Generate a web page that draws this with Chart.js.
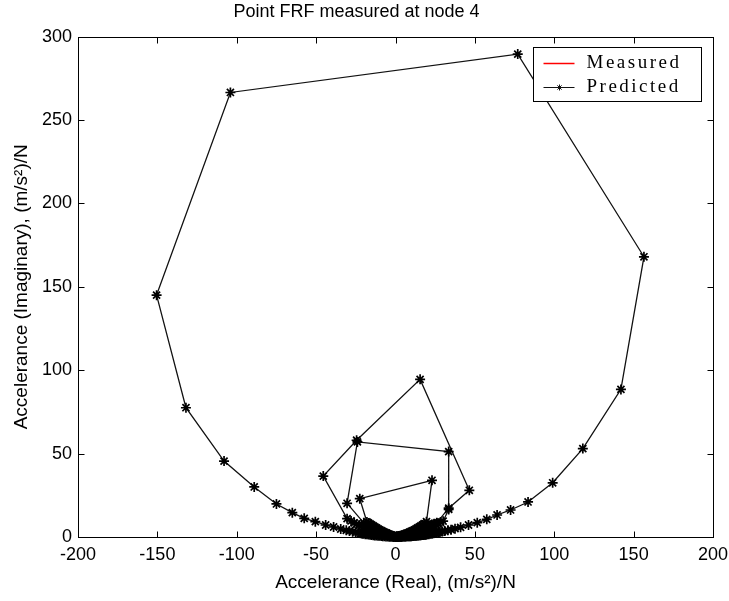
<!DOCTYPE html>
<html>
<head>
<meta charset="utf-8">
<title>Point FRF measured at node 4</title>
<script src="https://cdn.jsdelivr.net/npm/chart.js@4.4.1/dist/chart.umd.min.js"></script>
<style>
  html, body { margin: 0; padding: 0; background: #fff; }
  #frfChart { display: block; }
</style>
</head>
<body>
<canvas id="frfChart" width="729" height="601"></canvas>
<script>
// Tick positions on both axes
const xTicks = [-200, -150, -100, -50, 0, 50, 100, 150, 200];
const yTicks = [0, 50, 100, 150, 200, 250, 300];

// Measured FRF (nothing plotted, only shown in the legend)
const measReal = [];
const measImag = [];

// Predicted FRF, split by frequency band
// low frequency tail and rising side of mode 1
const tailReal = [0.1, 0.4, 0.7, 1, 1.3, 1.6, 2, 2.4, 2.8, 3.2, 3.6, 4, 4.5, 5, 5.5, 6, 6.5, 7, 7.5, 8,
  8.5, 9, 9.5, 10, 10.5, 11, 11.5, 12, 12.5, 13, 13.5, 14, 14.5, 15, 15.5, 16, 16.5, 17, 17.5, 18,
  18.5, 19, 19.5, 20, 21, 22, 23, 24, 25, 26, 27, 28, 29.5, 31, 33, 35, 37.5, 41, 46, 51.5,
  57.5, 64, 72.5, 83.5, 99, 118, 142, 156.5];
const tailImag = [0, 0, 0, 0.05, 0.05, 0.1, 0.1, 0.1, 0.15, 0.15, 0.2, 0.2, 0.25, 0.3, 0.3, 0.3, 0.35, 0.4, 0.4, 0.4,
  0.45, 0.5, 0.5, 0.5, 0.55, 0.6, 0.65, 0.7, 0.75, 0.8, 0.85, 0.9, 0.95, 1.0, 1.05, 1.1, 1.15, 1.2, 1.25, 1.3,
  1.35, 1.4, 1.5, 1.6, 1.7, 1.9, 2.0, 2.2, 2.4, 2.6, 2.8, 3.0, 3.3, 3.6, 4.0, 4.4, 5.0, 5.8, 7.2, 8.6,
  10.6, 13.2, 16.2, 21, 32.5, 53, 88.5, 168];

// top of mode 1 and the way back to the origin
const mode1Real = [77, -104, -150.5, -132, -108, -89, -75, -65, -57.5, -50.5, -44, -39, -34.5, -31, -29,
  -27, -25, -23.5, -22, -21, -20, -19, -18, -17, -16, -15, -14, -13, -12, -11,
  -10, -9, -8, -7, -6, -5, -4, -3, -2, -1, 0, 1];
const mode1Imag = [289.5, 266.5, 145, 77.5, 45.5, 30, 19.8, 14.6, 11.2, 9.2, 7.2, 6, 4.8, 4.0, 3.6,
  3.2, 2.8, 2.5, 2.2, 2.0, 1.9, 1.7, 1.6, 1.5, 1.3, 1.2, 1.1, 0.9, 0.85, 0.75,
  0.7, 0.6, 0.5, 0.4, 0.35, 0.3, 0.2, 0.15, 0.1, 0.05, 0, 0];

// mode 2
const mode2Real = [-1, -2, -3, -4, -5, -6, -7, -8, -9, -10, -11, -12, -13, -14, -15.5, -17, -18.5, -20, -21.5, -23,
  -24.5, -26, -28, -30.5, -45.5, -24.5, 15.5, 46.5, 33.5, 26, 24.5, 23, 22, 21, 20, 19, 18, 17, 16, 15,
  14, 13, 12, 11, 10, 9, 8, 7, 6, 5, 4, 3, 2, 1, 0];
const mode2Imag = [0.3, 0.5, 0.7, 0.9, 1.1, 1.3, 1.55, 1.8, 2.05, 2.3, 2.65, 3.0, 3.3, 3.6, 4.1, 4.6, 5.2, 5.8, 6.4, 7.0,
  7.7, 8.5, 9.6, 11, 36.5, 58, 94.5, 28, 17.3, 8.5, 8.0, 7.5, 7.1, 6.8, 6.4, 6.0, 5.6, 5.2, 4.8, 4.4,
  4.0, 3.6, 3.2, 2.9, 2.5, 2.2, 1.9, 1.6, 1.3, 1.0, 0.8, 0.6, 0.4, 0.3, 0.1];

// mode 3
const mode3Real = [-1, -2, -3, -4, -5, -6, -7, -8, -9, -10, -11, -12, -13, -14, -15, -16, -17.5, -19, -20, -30.5,
  -24, 33.5, 33.5, 30, 28.5, 27, 25.5, 24, 23, 22, 21, 20, 19, 18, 17, 16, 15, 14, 13, 12,
  11, 10, 9, 8, 7, 6, 5, 4, 3, 2, 1, 0.5];
const mode3Imag = [0.3, 0.5, 0.8, 1.1, 1.4, 1.7, 2.0, 2.4, 2.8, 3.1, 3.5, 3.9, 4.4, 4.9, 5.4, 6.0, 6.8, 7.6, 8.5, 20.2,
  57, 51.2, 16.5, 9.5, 8.9, 8.3, 7.6, 7.0, 6.6, 6.2, 5.8, 5.4, 5.0, 4.6, 4.3, 3.9, 3.5, 3.2, 2.8, 2.5,
  2.2, 1.9, 1.6, 1.3, 1.1, 0.9, 0.7, 0.5, 0.35, 0.2, 0.1, 0.05];

// mode 4
const mode4Real = [-1, -2, -3, -4, -5, -6, -7, -8, -9, -10, -11, -12, -13, -14, -15, -16, -17, -18, -22.5, 23,
  19.5, 18, 17, 16, 15, 14, 13, 12, 11, 10, 9, 8, 7, 6, 5, 4, 3, 2, 1, 0.5];
const mode4Imag = [0.4, 0.8, 1.2, 1.6, 2.0, 2.4, 2.8, 3.3, 3.8, 4.3, 4.8, 5.4, 6.0, 6.6, 7.2, 7.8, 8.4, 9.0, 23, 34,
  9.2, 8.0, 7.2, 6.6, 6.0, 5.4, 4.8, 4.3, 3.8, 3.3, 2.9, 2.5, 2.1, 1.7, 1.4, 1.1, 0.8, 0.5, 0.3, 0.1];

const predReal = [].concat(tailReal, mode1Real, mode2Real, mode3Real, mode4Real);
const predImag = [].concat(tailImag, mode1Imag, mode2Imag, mode3Imag, mode4Imag);

function toPoints(re, im) {
  return re.map((x, i) => ({ x: x, y: im[i] }));
}

// Box round the plot with MATLAB style inward ticks on all four sides
const axesBoxPlugin = {
  id: 'axesBox',
  afterDatasetsDraw(chart) {
    const { ctx, chartArea: a, scales } = chart;
    const len = 6;
    const L = Math.round(a.left) + 0.5, R = Math.round(a.right) + 0.5;
    const T = Math.round(a.top) + 0.5, B = Math.round(a.bottom) + 0.5;
    ctx.save();
    ctx.strokeStyle = '#000';
    ctx.lineWidth = 1;
    ctx.beginPath();
    xTicks.forEach(v => {
      const px = Math.round(scales.x.getPixelForValue(v)) + 0.5;
      ctx.moveTo(px, B); ctx.lineTo(px, B - len);
      ctx.moveTo(px, T); ctx.lineTo(px, T + len);
    });
    yTicks.forEach(v => {
      const py = Math.round(scales.y.getPixelForValue(v)) + 0.5;
      ctx.moveTo(L, py); ctx.lineTo(L + len, py);
      ctx.moveTo(R, py); ctx.lineTo(R - len, py);
    });
    ctx.stroke();
    ctx.strokeRect(L, T, R - L, B - T);
    ctx.restore();
  }
};

// Legend drawn inside the axes, top right corner
const insetLegendPlugin = {
  id: 'insetLegend',
  afterDatasetsDraw(chart) {
    const { ctx, chartArea: a } = chart;
    const boxW = 168, boxH = 54;
    const x0 = Math.round(a.right) - 12 - boxW + 0.5;
    const y0 = Math.round(a.top) + 10 + 0.5;
    ctx.save();
    ctx.fillStyle = '#fff';
    ctx.fillRect(x0, y0, boxW, boxH);
    ctx.strokeStyle = '#000';
    ctx.lineWidth = 1;
    ctx.strokeRect(x0, y0, boxW, boxH);
    chart.data.datasets.forEach((ds, i) => {
      const cy = Math.round(y0 + 15 + i * 24) + 0.5;
      ctx.strokeStyle = ds.borderColor;
      ctx.lineWidth = i === 0 ? 1.5 : 1;
      ctx.beginPath();
      ctx.moveTo(x0 + 10, cy);
      ctx.lineTo(x0 + 41, cy);
      ctx.stroke();
      if (ds.pointRadius > 0) {
        Chart.helpers.drawPoint(ctx, { pointStyle: ds.pointStyle, radius: 3, borderWidth: 1.4, rotation: 0 }, x0 + 26, cy);
      }
      ctx.fillStyle = '#000';
      ctx.font = '19px "Liberation Serif", serif';
      ctx.letterSpacing = '2.5px';
      ctx.textBaseline = 'middle';
      ctx.textAlign = 'left';
      ctx.fillText(ds.label, x0 + 53, cy);
    });
    ctx.restore();
  }
};

const tickFont = { family: '"Liberation Sans", Arial, sans-serif', size: 18 };
const labelFont = { family: '"Liberation Sans", Arial, sans-serif', size: 19 };

const ctx = document.getElementById('frfChart').getContext('2d');
const frfChart = new Chart(ctx, {
  type: 'scatter',
  data: {
    datasets: [
      {
        label: 'Measured',
        data: toPoints(measReal, measImag),
        showLine: true,
        borderColor: '#ff0000',
        borderWidth: 1,
        pointRadius: 0
      },
      {
        label: 'Predicted',
        data: toPoints(predReal, predImag),
        showLine: true,
        clip: false,
        borderColor: '#111111',
        backgroundColor: '#111111',
        borderWidth: 1.3,
        pointStyle: 'star',
        pointRadius: 5,
        pointBorderWidth: 1.7,
        pointBorderColor: '#000000'
      }
    ]
  },
  options: {
    responsive: false,
    animation: false,
    devicePixelRatio: 1,
    layout: { padding: { left: 0, right: 16, top: 0, bottom: 0 } },
    plugins: {
      legend: { display: false },
      tooltip: { enabled: false },
      title: {
        display: true,
        text: 'Point FRF measured at node 4',
        color: '#000',
        font: { family: '"Liberation Sans", Arial, sans-serif', size: 18, weight: 'normal' },
        padding: { top: 1, bottom: 14 }
      }
    },
    scales: {
      x: {
        type: 'linear',
        min: -200,
        max: 200,
        afterBuildTicks: s => { s.ticks = xTicks.map(v => ({ value: v })); },
        afterFit: s => { s.height = 64; s.paddingLeft = 0; s.paddingRight = 0; },
        grid: { display: false, drawTicks: false },
        border: { display: false },
        ticks: { color: '#000', font: tickFont, padding: 7, maxRotation: 0 },
        title: {
          display: true,
          text: 'Accelerance (Real), (m/s²)/N',
          color: '#000',
          font: labelFont,
          padding: { top: 0, bottom: 7 }
        }
      },
      y: {
        type: 'linear',
        min: 0,
        max: 300,
        afterBuildTicks: s => { s.ticks = yTicks.map(v => ({ value: v })); },
        afterFit: s => { s.width = 78; },
        grid: { display: false, drawTicks: false },
        border: { display: false },
        ticks: { color: '#000', font: tickFont, padding: 6 },
        title: {
          display: true,
          text: 'Accelerance (Imaginary), (m/s²)/N',
          color: '#000',
          font: labelFont,
          padding: { top: 10, bottom: 0 }
        }
      }
    }
  },
  plugins: [axesBoxPlugin, insetLegendPlugin]
});
</script>
</body>
</html>
